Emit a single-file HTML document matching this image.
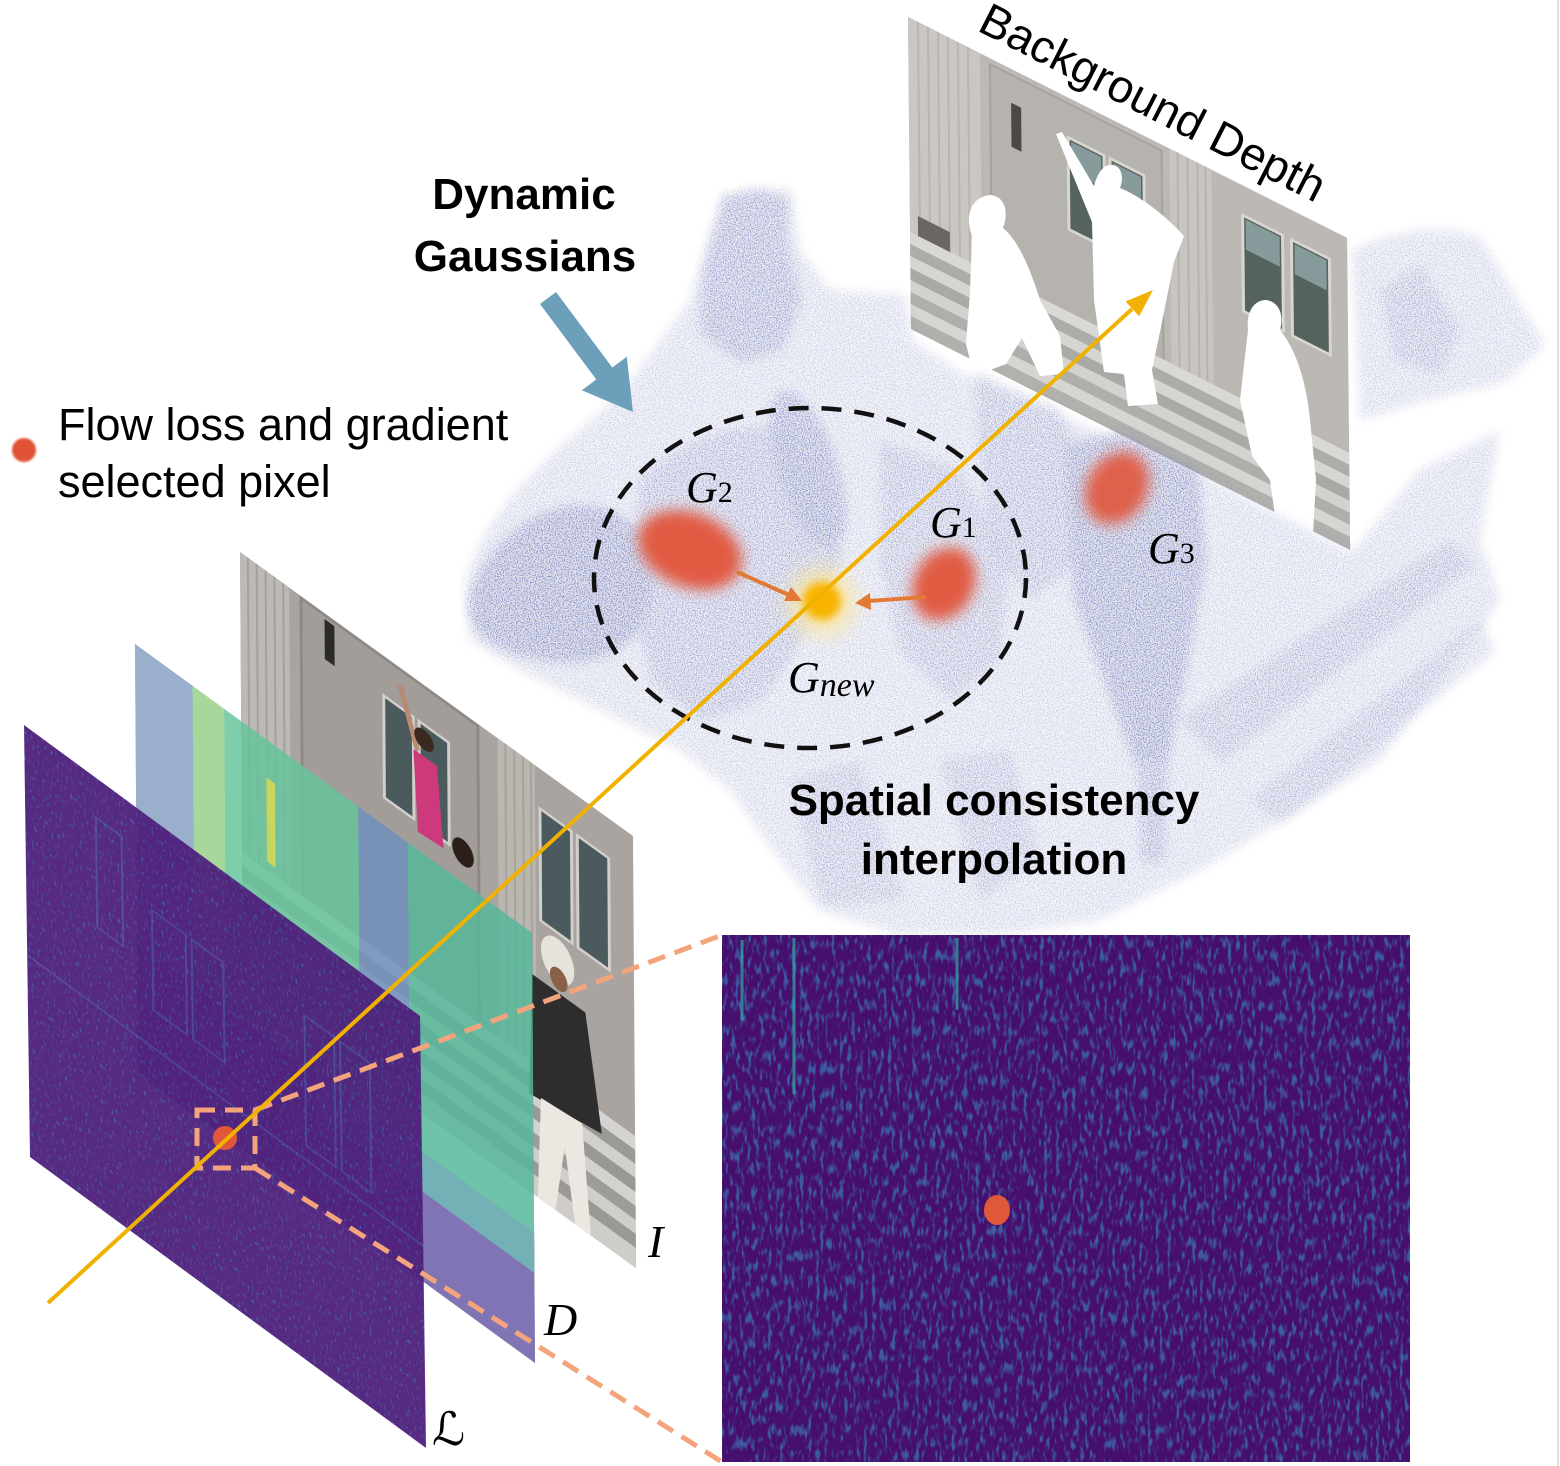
<!DOCTYPE html>
<html><head><meta charset="utf-8"><style>
html,body{margin:0;padding:0;background:#fff}
body{width:1560px;height:1466px;overflow:hidden}
svg{display:block}
.sans{font-family:"Liberation Sans",sans-serif}
.ser{font-family:"Liberation Serif","DejaVu Serif","DejaVu Sans",serif;font-style:italic}
</style></head><body>
<svg width="1560" height="1466" viewBox="0 0 1560 1466" xmlns="http://www.w3.org/2000/svg">
<defs>
 <filter id="cloud" filterUnits="userSpaceOnUse" x="0" y="0" width="1560" height="1466" color-interpolation-filters="sRGB">
  <feGaussianBlur in="SourceGraphic" stdDeviation="5" result="b"/>
  <feTurbulence type="fractalNoise" baseFrequency="0.85" numOctaves="1" seed="4" result="t"/>
  <feColorMatrix in="t" type="matrix" values="0 0 0 0 0 0 0 0 0 0 0 0 0 0 0 5 0 0 0 -2.3" result="ta"/>
  <feComposite in="b" in2="ta" operator="in" result="dots"/>
  <feComponentTransfer in="b" result="bf"><feFuncA type="linear" slope="0.25"/></feComponentTransfer>
  <feMerge><feMergeNode in="bf"/><feMergeNode in="dots"/></feMerge>
 </filter>
 <filter id="spkInset" filterUnits="userSpaceOnUse" x="722" y="935" width="688" height="527" color-interpolation-filters="sRGB">
  <feTurbulence type="fractalNoise" baseFrequency="0.25 0.08" numOctaves="2" seed="11" result="t"/>
  <feColorMatrix in="t" type="matrix" values="0 0 0 0 0.24 0 0 0 0 0.36 0 0 0 0 0.64 4.2 0 0 0 -2.1" result="d"/>
  <feComposite in="d" in2="SourceGraphic" operator="in" result="dd"/>
  <feMerge><feMergeNode in="SourceGraphic"/><feMergeNode in="dd"/></feMerge>
 </filter>
 <filter id="spkL" x="0" y="0" width="1" height="1" color-interpolation-filters="sRGB">
  <feTurbulence type="fractalNoise" baseFrequency="0.45 0.2" numOctaves="2" seed="3" result="t"/>
  <feColorMatrix in="t" type="matrix" values="0 0 0 0 0.25 0 0 0 0 0.36 0 0 0 0 0.66 4 0 0 0 -2.35" result="d"/>
  <feComposite in="d" in2="SourceGraphic" operator="in" result="dd"/>
  <feMerge><feMergeNode in="SourceGraphic"/><feMergeNode in="dd"/></feMerge>
 </filter>
 <filter id="blur7" x="-50%" y="-50%" width="200%" height="200%"><feGaussianBlur stdDeviation="7"/></filter>
 <filter id="blur4" x="-50%" y="-50%" width="200%" height="200%"><feGaussianBlur stdDeviation="4"/></filter>
 <filter id="blur10" x="-80%" y="-80%" width="260%" height="260%"><feGaussianBlur stdDeviation="10"/></filter>
 <filter id="blur1" x="-20%" y="-20%" width="140%" height="140%"><feGaussianBlur stdDeviation="1"/></filter>
</defs>

<rect width="1560" height="1466" fill="#fff"/>
<rect x="1557" y="0" width="2" height="1466" fill="#e3e3e3"/>

<!-- Background Depth plane -->
<g transform="matrix(0.998 0.502 0.0096 1 908 17)">
 <rect width="440" height="312" fill="#bcb9b4"/>
 <rect width="72" height="312" fill="#cac7c3"/>
 <g stroke="#b8b5b0" stroke-width="2">
  <line x1="10" y1="0" x2="10" y2="215"/><line x1="20" y1="0" x2="20" y2="215"/><line x1="30" y1="0" x2="30" y2="215"/>
  <line x1="40" y1="0" x2="40" y2="215"/><line x1="50" y1="0" x2="50" y2="215"/><line x1="60" y1="0" x2="60" y2="215"/>
 </g>
 <rect x="82" y="6" width="172" height="210" fill="#b6b3ae" stroke="#a5a29d" stroke-width="2"/>
 <rect x="103" y="34" width="10" height="44" fill="#4a4948"/>
 <g stroke="#d9d6d1" stroke-width="3">
  <rect x="160" y="40" width="36" height="92" fill="#56635f"/>
  <rect x="202" y="40" width="34" height="92" fill="#56635f"/>
  <rect x="335" y="30" width="40" height="96" fill="#55625e"/>
  <rect x="384" y="30" width="38" height="96" fill="#55625e"/>
 </g>
 <g fill="#9cb2b6" opacity="0.7">
  <rect x="163" y="43" width="30" height="30"/><rect x="205" y="43" width="28" height="30"/>
  <rect x="338" y="33" width="34" height="30"/><rect x="387" y="33" width="32" height="30"/>
 </g>
 <rect x="262" y="0" width="42" height="215" fill="#c8c5c0"/>
 <g stroke="#b6b3ae" stroke-width="2">
  <line x1="270" y1="0" x2="270" y2="215"/><line x1="280" y1="0" x2="280" y2="215"/><line x1="290" y1="0" x2="290" y2="215"/><line x1="298" y1="0" x2="298" y2="215"/>
 </g>
 <rect x="8" y="195" width="32" height="30" fill="#6a6664"/>
 <g>
  <rect x="0" y="215" width="440" height="12" fill="#d9d8d4"/>
  <rect x="0" y="227" width="440" height="12" fill="#aeaca8"/>
  <rect x="0" y="239" width="440" height="12" fill="#d6d5d1"/>
  <rect x="0" y="251" width="440" height="12" fill="#aba9a5"/>
  <rect x="0" y="263" width="440" height="12" fill="#d3d2ce"/>
  <rect x="0" y="275" width="440" height="12" fill="#b0aeaa"/>
  <rect x="0" y="287" width="440" height="12" fill="#d6d5d1"/>
  <rect x="0" y="299" width="440" height="13" fill="#b2b0ac"/>
 </g>
</g>
<!-- white silhouettes -->
<g fill="#fff">
 <path d="M972,236 C964,214 972,197 990,195 C1005,196 1009,212 1003,228 C1018,240 1030,268 1040,300 L1060,336 L1064,374 L1040,376 L1022,338 L1006,364 L974,376 L966,344 L970,292 Z"/>
 <path d="M1056,134 L1062,132 L1094,186 C1098,172 1104,164 1112,165 C1122,166 1124,178 1120,188 C1140,196 1165,215 1184,236 L1174,262 L1162,322 L1152,370 L1158,404 L1128,406 L1124,374 L1104,372 L1094,300 L1092,222 Z"/>
 <path d="M1248,330 C1246,312 1254,300 1266,300 C1280,302 1284,316 1280,330 C1296,350 1306,380 1310,420 L1316,480 L1312,552 L1280,552 L1270,480 L1252,456 L1240,400 Z"/>
</g>

<!-- point cloud -->
<g filter="url(#cloud)" fill="#8c93c4">
 <path fill-opacity="0.38" d="M465,590 C470,540 520,480 580,430 C630,390 660,340 690,300 L705,250 L725,195 L790,188 L800,250 L830,290 L905,295 L912,340 L960,372 L1000,392 L1050,412 L1100,432 L1180,462 L1250,500 L1352,552 L1420,470 L1500,430 L1480,540 L1500,600 L1440,680 L1380,760 L1300,810 L1200,870 L1100,920 L1000,935 L900,935 L820,910 L780,860 L730,790 L680,750 L600,710 L520,670 L470,640 Z"/>
 <path fill-opacity="0.38" d="M1352,250 C1400,228 1450,222 1482,240 L1545,345 L1505,382 L1420,402 L1360,420 Z"/>
 <path fill-opacity="0.45" d="M1380,290 L1420,265 L1460,330 L1440,375 L1395,360 Z"/>
 <path fill-opacity="1" d="M468,602 C478,560 520,512 572,506 C622,502 652,532 652,580 C652,630 622,662 570,662 C518,662 466,642 468,602 Z"/>
 <path fill-opacity="0.7" d="M702,275 L722,196 L760,188 L790,200 L786,240 L802,300 L782,350 L740,362 L700,332 Z"/>
 <path fill-opacity="0.55" d="M640,480 C680,440 740,420 780,430 L822,470 L842,560 L802,640 L762,700 L702,722 L652,682 L632,600 Z"/>
 <ellipse fill-opacity="0.85" cx="808" cy="470" rx="30" ry="82" transform="rotate(-18 808 470)"/>
 <path fill-opacity="0.5" d="M975,372 L1060,410 L1090,480 L1080,560 L1030,600 L990,540 L980,460 Z"/>
 <path fill-opacity="0.45" d="M880,440 L960,470 L1010,560 L1000,660 L950,700 L900,650 L880,560 Z"/>
 <path fill-opacity="0.9" d="M1065,445 L1122,432 L1198,470 L1206,560 L1188,660 L1168,760 L1134,762 L1104,680 L1074,600 Z"/>
 <path fill-opacity="0.45" d="M1180,720 L1450,540 L1475,565 L1222,762 Z"/>
 <path fill-opacity="0.4" d="M1250,800 L1482,618 L1494,652 L1282,824 Z"/>
 <path fill-opacity="0.4" d="M790,780 L860,760 L905,900 L822,905 Z"/>
 <path fill-opacity="0.65" d="M1134,720 L1170,720 L1164,862 L1142,862 Z"/>
 <path fill-opacity="0.4" d="M940,760 L1010,750 L1040,860 L980,900 Z"/>
</g>

<!-- gaussians -->
<ellipse cx="690" cy="550" rx="54" ry="37" transform="rotate(22 690 550)" fill="#e2553a" filter="url(#blur7)" opacity="0.95"/>
<ellipse cx="944" cy="584" rx="30" ry="38" transform="rotate(28 944 584)" fill="#e2553a" filter="url(#blur7)" opacity="0.95"/>
<ellipse cx="1117" cy="488" rx="30" ry="38" transform="rotate(30 1117 488)" fill="#e2553a" filter="url(#blur7)" opacity="0.9"/>
<circle cx="822" cy="602" r="34" fill="#fbe7a0" filter="url(#blur10)" opacity="0.8"/>
<circle cx="822" cy="601" r="19" fill="#f8b400" filter="url(#blur4)"/>

<!-- orange arrows -->
<g stroke="#e27a35" stroke-width="4" fill="#e27a35">
 <line x1="737" y1="572" x2="789" y2="595"/>
 <line x1="926" y1="597" x2="868" y2="601"/>
</g>
<polygon points="802,601 784,601 791,587" fill="#e27a35"/>
<polygon points="855,603 870,593 871,610" fill="#e27a35"/>

<!-- dashed circle -->
<ellipse cx="810" cy="578" rx="216" ry="170" fill="none" stroke="#111" stroke-width="4.5" stroke-dasharray="20 13"/>

<!-- blue arrow -->
<polygon points="556,292 612.3,367.5 626.8,356.8 633,412 581.8,390.2 596.3,379.5 540,304" fill="#6c9fb9"/>

<!-- I plane -->
<g transform="matrix(0.9825 0.71 0.00694 1 240 552)">
 <rect width="400" height="432" fill="#a9a49f"/>
 <rect width="50" height="300" fill="#bdb9b4"/>
 <g stroke="#a4a09b" stroke-width="2">
  <line x1="8" y1="0" x2="8" y2="300"/><line x1="17" y1="0" x2="17" y2="300"/><line x1="26" y1="0" x2="26" y2="300"/><line x1="35" y1="0" x2="35" y2="300"/><line x1="44" y1="0" x2="44" y2="300"/>
 </g>
 <rect x="62" y="2" width="180" height="300" fill="#a29d98" stroke="#8e8984" stroke-width="3"/>
 <rect x="86" y="6" width="10" height="40" fill="#2a2a2a"/>
 <g stroke="#d3cfca" stroke-width="3" fill="#4b5a5d">
  <rect x="146" y="40" width="30" height="102"/><rect x="182" y="40" width="30" height="102"/>
  <rect x="305" y="40" width="32" height="112"/><rect x="343" y="40" width="32" height="112"/>
 </g>
 <rect x="262" y="0" width="38" height="300" fill="#bab6b0"/>
 <g stroke="#a6a29d" stroke-width="2">
  <line x1="270" y1="0" x2="270" y2="300"/><line x1="279" y1="0" x2="279" y2="300"/><line x1="288" y1="0" x2="288" y2="300"/><line x1="296" y1="0" x2="296" y2="300"/>
 </g>
 <line x1="180" y1="70" x2="163" y2="18" stroke="#b98a72" stroke-width="6"/>
 <circle cx="187" cy="55" r="10" fill="#3a2a20"/>
 <polygon points="176,72 200,72 206,150 180,152" fill="#cc3a7c"/>
 <ellipse cx="226" cy="140" rx="11" ry="13" fill="#2a1f1a"/>
 <g>
  <rect x="0" y="300" width="400" height="14" fill="#d6d4d0"/><rect x="0" y="314" width="400" height="14" fill="#9c9a97"/>
  <rect x="0" y="328" width="400" height="14" fill="#d2d0cc"/><rect x="0" y="342" width="400" height="14" fill="#9a9895"/>
  <rect x="0" y="356" width="400" height="14" fill="#d4d2ce"/><rect x="0" y="370" width="400" height="14" fill="#9e9c99"/>
  <rect x="0" y="384" width="400" height="14" fill="#d0cecb"/><rect x="0" y="398" width="400" height="14" fill="#9b9996"/>
  <rect x="0" y="412" width="400" height="20" fill="#cfcdca"/>
 </g>
 <ellipse cx="322" cy="180" rx="17" ry="22" fill="#e6e3dd"/>
 <ellipse cx="323" cy="198" rx="9" ry="11" fill="#8a6048"/>
 <polygon points="296,212 350,212 366,322 292,334" fill="#2c2d2c"/>
 <polygon points="304,330 346,326 354,432 338,432 328,362 318,432 300,432" fill="#ece8e1"/>
</g>

<!-- D plane -->
<g transform="matrix(0.9925 0.7225 0.00698 1 135 644)" opacity="0.84">
 <rect width="400" height="430" fill="#5bbf9d"/>
 <rect width="58" height="430" fill="#86a0c2"/>
 <rect x="58" y="0" width="32" height="260" fill="#98d08a"/>
 <rect x="90" y="0" width="135" height="300" fill="#66c49c"/>
 <rect x="132" y="38" width="9" height="84" fill="#c8dc50"/>
 <rect x="225" y="0" width="50" height="170" fill="#7090be"/>
 <rect x="275" y="0" width="125" height="330" fill="#55b89b"/>
 <rect x="0" y="300" width="400" height="130" fill="#6a5aa8"/>
 <rect x="180" y="300" width="220" height="40" fill="#5aa3aa"/>
</g>

<!-- L plane -->
<g transform="matrix(0.99 0.7275 0.0139 1 24 725)" opacity="0.95">
 <rect width="400" height="432" fill="#4f1f7b" filter="url(#spkL)"/>
 <g fill="none" stroke="#4a67ad" stroke-width="2" opacity="0.5">
  <rect x="72" y="40" width="26" height="110"/>
  <rect x="128" y="92" width="34" height="100"/><rect x="168" y="92" width="32" height="100"/>
  <rect x="282" y="85" width="30" height="130"/><rect x="318" y="85" width="30" height="130"/>
  <line x1="0" y1="230" x2="400" y2="230"/>
 </g>
</g>

<!-- selected pixel and zoom square -->
<circle cx="225" cy="1138" r="12" fill="#e0583a"/>
<g stroke="#f4a47c" stroke-width="5" stroke-dasharray="18 10" fill="none">
 <rect x="197" y="1110" width="58" height="58"/>
 <line x1="255" y1="1110" x2="722" y2="935"/>
 <line x1="255" y1="1168" x2="722" y2="1462"/>
</g>

<!-- yellow ray -->
<line x1="48" y1="1303" x2="1132" y2="309" stroke="#f0b100" stroke-width="4"/>
<polygon points="1153,290 1139.2,316.3 1125.6,301.5" fill="#f0b100"/>

<!-- inset -->
<rect x="722" y="935" width="688" height="527" fill="#470f6c" filter="url(#spkInset)"/>
<g stroke="#2fa9a2" stroke-width="3" opacity="0.7">
 <line x1="794" y1="938" x2="794" y2="1094"/>
 <line x1="957" y1="938" x2="957" y2="1010"/>
 <line x1="742" y1="940" x2="742" y2="1020"/>
</g>
<ellipse cx="997" cy="1210" rx="13" ry="15" fill="#e0583a"/>

<!-- legend dot -->
<circle cx="24" cy="450" r="12" fill="#e05236" filter="url(#blur1)"/>

<!-- texts -->
<g class="sans" fill="#000">
 <text x="524" y="209" font-size="44" font-weight="bold" text-anchor="middle">Dynamic</text>
 <text x="525" y="271" font-size="44" font-weight="bold" text-anchor="middle">Gaussians</text>
 <text x="58" y="440" font-size="45">Flow loss and gradient</text>
 <text x="58" y="497" font-size="45">selected pixel</text>
 <text x="994" y="815" font-size="44" font-weight="bold" text-anchor="middle">Spatial consistency</text>
 <text x="994" y="874" font-size="44" font-weight="bold" text-anchor="middle">interpolation</text>
 <text x="976" y="30" font-size="46" transform="rotate(27 976 30)">Background Depth</text>
</g>
<g class="ser" fill="#000">
 <text x="648" y="1257" font-size="46">I</text>
 <text x="544" y="1335" font-size="46">D</text>
 <text x="432" y="1445" font-size="46">ℒ</text>
 <text x="686" y="502" font-size="44">G<tspan font-size="30" font-style="normal">2</tspan></text>
 <text x="930" y="537" font-size="44">G<tspan font-size="30" font-style="normal">1</tspan></text>
 <text x="1148" y="563" font-size="44">G<tspan font-size="30" font-style="normal">3</tspan></text>
 <text x="788" y="692" font-size="44">G<tspan font-size="34" dy="4">new</tspan></text>
</g>
</svg>
</body></html>
